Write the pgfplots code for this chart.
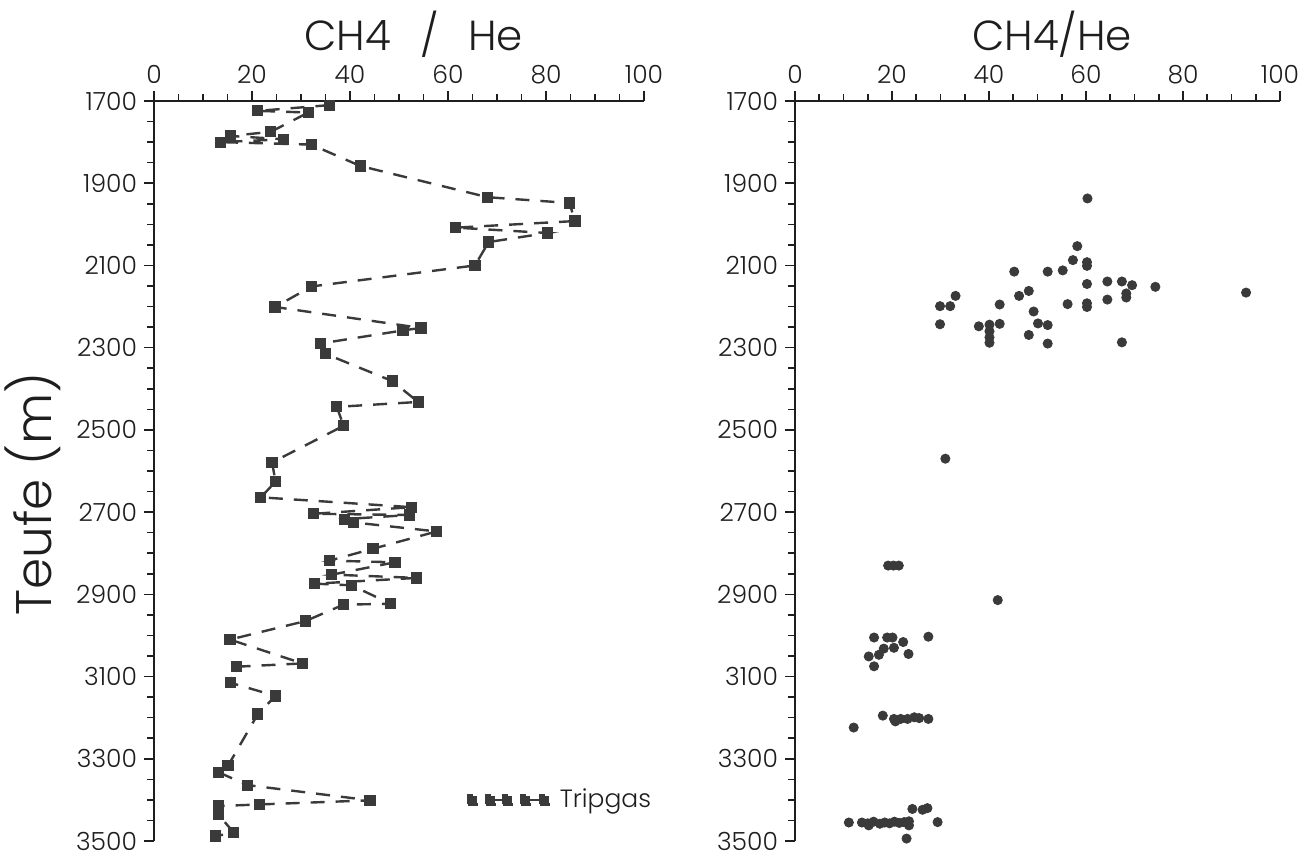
\documentclass[border=0pt]{standalone}
\usepackage{pgfplots}
\pgfplotsset{compat=1.18}
\usepackage{fontspec}
\setmainfont{Poppins Light}
\definecolor{dat}{HTML}{3A3A3A}
\definecolor{ax}{HTML}{1E1E1E}

\pgfplotstableread{
v d
35.8 1710
21.2 1724
31.5 1728
23.8 1775
15.6 1785
26.5 1793
13.6 1800
32.1 1806
42.1 1858
68.1 1934
84.8 1948
85.9 1992
61.6 2008
80.3 2021
68.3 2043
65.5 2100
32.2 2151
24.7 2201
54.5 2252
50.8 2258
33.9 2290
35.0 2315
48.6 2381
53.9 2432
37.3 2444
38.7 2490
24.1 2579
24.8 2626
21.8 2664
52.6 2688
32.6 2704
52.2 2707
38.8 2717
40.7 2725
57.7 2747
44.7 2789
35.8 2818
49.2 2822
36.3 2852
53.6 2860
32.8 2874
40.3 2878
48.3 2923
38.7 2925
30.9 2965
15.5 3010
30.3 3068
16.9 3076
15.6 3115
24.8 3147
21.2 3191
15.1 3317
13.2 3333
19.1 3364
44.1 3401
21.6 3411
13.1 3415
13.1 3435
16.3 3480
12.5 3488
}\tripgas

\pgfplotstableread{
v d
60.3 1937
58.2 2053
57.3 2087
60.2 2092
60.2 2101
55.2 2112
52.1 2115
45.2 2115
60.2 2145
64.4 2139
67.4 2139
69.5 2148
74.3 2152
93.0 2166
68.3 2168
68.3 2178
64.4 2183
60.2 2192
60.2 2201
56.2 2194
48.2 2162
46.2 2174
49.2 2212
42.2 2195
33.1 2174
32.0 2199
29.9 2199
29.9 2243
37.9 2248
40.1 2244
42.2 2242
40.1 2260
40.1 2275
40.1 2288
50.1 2241
52.1 2245
48.2 2269
52.1 2290
67.4 2287
31.0 2570
19.2 2830
20.3 2830
21.4 2830
41.8 2914
16.3 3005
19.0 3005
20.1 3005
22.3 3016
27.5 3003
20.4 3030
18.3 3032
17.3 3047
15.2 3051
23.4 3045
16.3 3075
18.1 3195
20.4 3203
20.7 3209
21.8 3203
23.2 3203
24.6 3199
25.6 3201
27.5 3203
12.1 3224
24.2 3422
26.3 3424
27.3 3420
11.1 3455
13.8 3455
15.0 3457
16.2 3453
17.5 3458
18.5 3455
19.5 3457
20.5 3453
21.5 3456
22.5 3454
23.5 3452
23.5 3462
15.2 3462
29.4 3454
23.0 3494
}\bohr

\pgfplotsset{
 mystyle/.style={
  scale only axis,
  height=370pt,
  xmin=0, xmax=100, ymin=1700, ymax=3500,
  y dir=reverse,
  axis x line*=top, axis y line*=left,
  axis line style={ax, line width=1pt, -},
  xtick={0,20,...,100}, ytick={1700,1900,...,3500},
  minor x tick num=3, minor y tick num=3,
  tick align=outside,
  major tick length=5pt, minor tick length=3.5pt,
  tick style={ax, line width=0.8pt},
  tick label style={font=\fontsize{12.5}{14}\selectfont, text=ax},
  /pgf/number format/assume math mode=true,
  /pgf/number format/1000 sep={},
  title style={at={(axis description cs:0.53,1)}, anchor=center, yshift=27.5pt, font=\fontsize{21}{24}\selectfont, text=ax},
  clip=false,
 }
}

\begin{document}
\begin{tikzpicture}
\useasboundingbox (0,0) rectangle (652pt,429.5pt);
\begin{axis}[mystyle,
  at={(77pt,9pt)}, anchor=south west, width=245pt,
  title={CH4\hspace{0.7em}/\hspace{0.7em}He},
  ylabel={Teufe (m)},
  ylabel style={at={(axis description cs:-0.247,0.469)}, anchor=center, font=\fontsize{25}{28}\selectfont, text=ax},
  legend style={draw=none, fill=none, at={(axis cs:62.5,3400)}, anchor=west, font=\fontsize{12.5}{14}\selectfont, text=ax},
  legend cell align=left,
]
\addplot[dat, line width=1.2pt, dash pattern=on 7pt off 5.5pt, mark=square*, mark size=2.2pt, mark options={solid, fill=dat},
  legend image code/.code={
    \fill[dat] (-2.2pt,-2.2pt) rectangle (2.2pt,2.2pt);
    \fill[dat] (6.8pt,-2.2pt) rectangle (11.2pt,2.2pt);
    \draw[dat,line width=1.2pt,solid] (9pt,0pt) -- (17.5pt,0pt);
    \fill[dat] (15.3pt,-2.2pt) rectangle (19.7pt,2.2pt);
    \fill[dat] (24.3pt,-2.2pt) rectangle (28.7pt,2.2pt);
    \draw[dat,line width=1.2pt,solid] (26.5pt,0pt) -- (36pt,0pt);
    \fill[dat] (33.8pt,-2.2pt) rectangle (38.2pt,2.2pt);
  }] table[x=v, y=d] {\tripgas};
\addlegendentry{\hspace{3pt}Tripgas}
\end{axis}

\begin{axis}[mystyle,
  at={(397.5pt,9pt)}, anchor=south west, width=242.5pt,
  title={CH4/He},
]
\addplot[only marks, mark=*, mark size=2.3pt, draw=dat, fill=dat] table[x=v, y=d] {\bohr};
\end{axis}
\end{tikzpicture}
\end{document}
